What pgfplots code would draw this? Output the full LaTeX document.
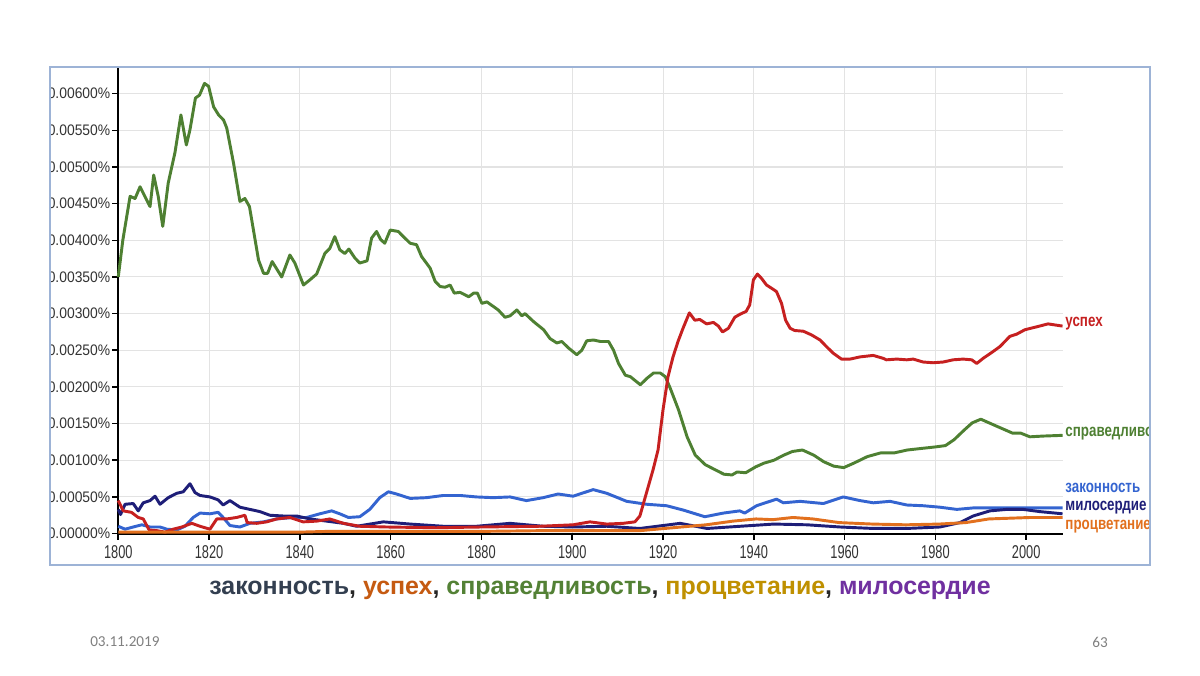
\documentclass[border=0pt]{standalone}
\usepackage{pgfplots}
\usepackage{graphicx}
\pgfplotsset{compat=1.18}
\usepackage{fontspec}
\setmainfont{Liberation Sans}
\newfontfamily\footfont{Carlito}

\definecolor{cGreen}{HTML}{4E8032}
\definecolor{cRed}{HTML}{C62020}
\definecolor{cBlue}{HTML}{3464D0}
\definecolor{cNavy}{HTML}{1E1E78}
\definecolor{cOrange}{HTML}{E2701E}
\definecolor{frameC}{HTML}{9DB3D6}
\definecolor{gridC}{HTML}{E3E3E3}
\definecolor{tA}{HTML}{333F50}
\definecolor{tB}{HTML}{C55A11}
\definecolor{tC}{HTML}{538135}
\definecolor{tD}{HTML}{BF9000}
\definecolor{tE}{HTML}{7030A0}

\newcommand{\yl}[1]{\scalebox{1}[1.1]{#1}}
\newcommand{\xl}[1]{\scalebox{1}[1.45]{#1}}
\newcommand{\rl}[1]{\scalebox{1}[1.3]{#1}}

\begin{document}
\begin{tikzpicture}
\useasboundingbox (0pt,0pt) rectangle (900pt,506.25pt);
\fill[white] (0pt,0pt) rectangle (900pt,506.25pt);
\begin{scope}
\clip (37.5pt,82.5pt) rectangle (862.5pt,456pt);
\begin{axis}[
  at={(88.7pt,106.05pt)}, anchor=south west,
  width=708.2pt, height=349.2pt, scale only axis,
  xmin=1800, xmax=2008, ymin=0, ymax=0.00635,
  axis x line*=bottom, axis y line*=left,
  axis line style={black, line width=1.5pt},
  clip=false,
  xtick={1800,1820,1840,1860,1880,1900,1920,1940,1960,1980,2000},
  xticklabels={\xl{1800},\xl{1820},\xl{1840},\xl{1860},\xl{1880},\xl{1900},\xl{1920},\xl{1940},\xl{1960},\xl{1980},\xl{2000}},
  ytick={0,0.0005,0.001,0.0015,0.002,0.0025,0.003,0.0035,0.004,0.0045,0.005,0.0055,0.006},
  yticklabels={\yl{0.00000\%},\yl{0.00050\%},\yl{0.00100\%},\yl{0.00150\%},\yl{0.00200\%},\yl{0.00250\%},\yl{0.00300\%},\yl{0.00350\%},\yl{0.00400\%},\yl{0.00450\%},\yl{0.00500\%},\yl{0.00550\%},\yl{0.00600\%}},
  tick align=outside,
  major tick length=4.5pt,
  tick style={black, line width=1.2pt},
  grid=major,
  major grid style={gridC, line width=0.8pt},
  xticklabel style={font=\fontsize{9.6}{10}\selectfont, text=black!80, yshift=-1pt},
  yticklabel style={font=\fontsize{10.4}{11}\selectfont, text=black!80, xshift=2pt},
  every axis plot/.append style={line width=2.2pt, line join=round},
]
% справедливость
\addplot[cGreen] coordinates {(1800,0.00350) (1801,0.00400) (1802.6,0.00460) (1803.7,0.00457) (1804.8,0.00473) (1807,0.00446) (1807.8,0.00489) (1808.8,0.00460) (1809.8,0.00419) (1811,0.00478) (1812.5,0.00520) (1813.8,0.00571) (1815,0.00530) (1815.8,0.00551) (1817,0.00594) (1817.9,0.00598) (1819,0.00614) (1819.9,0.00610) (1821,0.00582) (1822.1,0.00571) (1823.2,0.00564) (1823.9,0.00553) (1825.4,0.00505) (1826.8,0.00453) (1827.9,0.00457) (1828.9,0.00446) (1830.9,0.00373) (1832,0.00355) (1832.9,0.00355) (1833.9,0.00371) (1836,0.00350) (1837.8,0.00380) (1838.9,0.00369) (1840.8,0.00339) (1842.2,0.00346) (1843.7,0.00354) (1845.5,0.00382) (1846.6,0.00389) (1847.7,0.00405) (1848.8,0.00387) (1849.9,0.00382) (1850.8,0.00388) (1852.1,0.00376) (1853.2,0.00369) (1854.8,0.00372) (1855.8,0.00403) (1856.9,0.00412) (1857.8,0.00401) (1858.7,0.00396) (1859.9,0.00414) (1861.7,0.00412) (1862.8,0.00405) (1864.3,0.00396) (1865.7,0.00394) (1866.8,0.00378) (1868.7,0.00362) (1869.8,0.00344) (1870.9,0.00337) (1872,0.00336) (1873.1,0.00339) (1874,0.00328) (1875.3,0.00329) (1877.2,0.00323) (1878.3,0.00328) (1879.1,0.00328) (1880.1,0.00314) (1881.2,0.00316) (1883.7,0.00305) (1885.2,0.00295) (1886.3,0.00297) (1887.8,0.00305) (1888.9,0.00297) (1889.6,0.00300) (1891.5,0.00289) (1893.7,0.00278) (1895.1,0.00266) (1896.6,0.00260) (1897.7,0.00262) (1899.2,0.00253) (1901,0.00244) (1902.1,0.00250) (1903.2,0.00263) (1904.7,0.00264) (1906.2,0.00262) (1908,0.00262) (1909.1,0.00250) (1910.2,0.00232) (1911.7,0.00216) (1912.8,0.00214) (1915,0.00203) (1916.5,0.00212) (1917.9,0.00219) (1919.4,0.00219) (1920.5,0.00214) (1921.6,0.00198) (1923.4,0.00169) (1925.3,0.00132) (1927.1,0.00107) (1929.3,0.00094) (1931.5,0.00087) (1933.4,0.00081) (1935.2,0.00080) (1936.3,0.00084) (1938.2,0.00083) (1940.4,0.00091) (1942.2,0.00096) (1944.4,0.00100) (1946.6,0.00107) (1948.5,0.00112) (1950.7,0.00114) (1953.2,0.00107) (1955.4,0.00098) (1957.6,0.00092) (1959.8,0.00090) (1962,0.00096) (1965,0.00105) (1967.9,0.00110) (1970.9,0.00110) (1973.8,0.00114) (1976.7,0.00116) (1979.7,0.00118) (1982.2,0.00120) (1984.1,0.00128) (1986.3,0.00141) (1988.1,0.00151) (1990,0.00156) (1992.2,0.00150) (1994.4,0.00144) (1997,0.00137) (1998.8,0.00137) (2000.8,0.00132) (2003.7,0.00133) (2008,0.00134)};
% законность
\addplot[cBlue] coordinates {(1800,0.00010) (1801.5,0.00006) (1803.3,0.00009) (1805.2,0.00012) (1807,0.00009) (1809.2,0.00009) (1810.7,0.00006) (1812.9,0.00005) (1814.7,0.00010) (1816.5,0.00022) (1818,0.00028) (1820.2,0.00027) (1822,0.00029) (1823.1,0.00022) (1824.6,0.00011) (1826.8,0.00009) (1829,0.00014) (1832,0.00016) (1834.9,0.00020) (1838.5,0.00022) (1841.5,0.00022) (1844.4,0.00027) (1847,0.00031) (1848.8,0.00027) (1850.7,0.00022) (1853.2,0.00023) (1855.4,0.00033) (1857.6,0.00049) (1859.5,0.00057) (1861.3,0.00054) (1864.3,0.00048) (1867.9,0.00049) (1871.6,0.00052) (1875.3,0.00052) (1878.9,0.00050) (1882.6,0.00049) (1886.3,0.00050) (1889.9,0.00045) (1893.6,0.00049) (1896.9,0.00054) (1900.2,0.00051) (1904.6,0.00060) (1907.6,0.00055) (1912,0.00044) (1916.4,0.00040) (1920.8,0.00038) (1924.5,0.00032) (1929.2,0.00023) (1933.3,0.00028) (1936.9,0.00031) (1938,0.00028) (1940.6,0.00038) (1945,0.00047) (1946.5,0.00042) (1950.2,0.00044) (1955.3,0.00041) (1959.7,0.00050) (1963.4,0.00045) (1966.3,0.00042) (1970,0.00044) (1973.7,0.00039) (1977.3,0.00038) (1981,0.00036) (1984.7,0.00033) (1988.3,0.00035) (1995.7,0.00035) (2003,0.00035) (2008,0.00035)};
% милосердие
\addplot[cNavy] coordinates {(1800,0.00033) (1800.5,0.00026) (1801.5,0.00040) (1803.3,0.00041) (1804.4,0.00031) (1805.5,0.00042) (1807,0.00045) (1808.1,0.00051) (1809.2,0.00040) (1811,0.00049) (1812.9,0.00055) (1814.3,0.00057) (1815.8,0.00068) (1816.9,0.00056) (1818,0.00052) (1820.2,0.00050) (1822,0.00046) (1823.1,0.00039) (1824.6,0.00045) (1826.8,0.00036) (1829,0.00033) (1831.2,0.00030) (1833.4,0.00025) (1836.4,0.00024) (1839.3,0.00024) (1842.2,0.00020) (1845.9,0.00017) (1849.6,0.00014) (1852.5,0.00010) (1858.4,0.00016) (1864.3,0.00013) (1871.6,0.00010) (1878.9,0.00010) (1886.3,0.00014) (1893.6,0.00010) (1900.2,0.00009) (1907.6,0.00010) (1914.9,0.00007) (1923.8,0.00014) (1929.7,0.00007) (1937,0.00010) (1944.4,0.00013) (1951.7,0.00012) (1959,0.00009) (1966.3,0.00007) (1973.7,0.00007) (1981,0.00009) (1985.4,0.00015) (1988.3,0.00024) (1992,0.00031) (1995.7,0.00033) (1999.3,0.00033) (2003,0.00030) (2008,0.00027)};
% успех
\addplot[cRed] coordinates {(1800,0.00045) (1801.1,0.00031) (1802.9,0.00029) (1804.4,0.00022) (1805.5,0.00020) (1806.8,0.00005) (1808.5,0.00004) (1810.3,0.00002) (1812.1,0.00006) (1814,0.00009) (1816.2,0.00014) (1818,0.00010) (1820.2,0.00006) (1821.7,0.00020) (1823.9,0.00020) (1826.1,0.00022) (1827.9,0.00025) (1828.4,0.00015) (1830.5,0.00014) (1832.7,0.00016) (1834.9,0.00020) (1837.8,0.00022) (1840.7,0.00016) (1843.7,0.00017) (1846.6,0.00020) (1849.6,0.00014) (1853.2,0.00010) (1859.1,0.00009) (1870,0.00008) (1880,0.00009) (1892.9,0.00010) (1900.2,0.00012) (1903.9,0.00016) (1907.6,0.00013) (1911.2,0.00014) (1913.8,0.00016) (1914.9,0.00024) (1916,0.00048) (1917.8,0.00087) (1918.9,0.00114) (1920,0.00169) (1921.1,0.00214) (1922.2,0.00241) (1923.3,0.00262) (1924.4,0.00280) (1925.8,0.00301) (1927,0.00291) (1928.1,0.00292) (1929.6,0.00286) (1931.1,0.00288) (1932.2,0.00283) (1933.1,0.00275) (1934.4,0.00280) (1935.8,0.00295) (1936.9,0.00299) (1938.3,0.00303) (1939.1,0.00312) (1939.9,0.00346) (1940.8,0.00354) (1941.7,0.00348) (1942.8,0.00339) (1944.3,0.00333) (1945,0.00330) (1946.1,0.00314) (1947,0.00291) (1948,0.00280) (1949,0.00277) (1950.9,0.00276) (1952.7,0.00271) (1954.6,0.00264) (1956,0.00255) (1957.5,0.00246) (1959.3,0.00238) (1961.2,0.00238) (1963.4,0.00241) (1966.3,0.00243) (1968.5,0.00239) (1969.2,0.00237) (1971.5,0.00238) (1973.7,0.00237) (1975.1,0.00238) (1977.3,0.00234) (1979.5,0.00233) (1981.7,0.00234) (1983.9,0.00237) (1986.1,0.00238) (1988,0.00237) (1989.1,0.00232) (1990.5,0.00239) (1992.4,0.00247) (1994.2,0.00255) (1996.4,0.00269) (1997.9,0.00272) (1999.7,0.00278) (2002.3,0.00282) (2004.8,0.00286) (2008,0.00283)};
% процветание
\addplot[cOrange] coordinates {(1800,0.00002) (1820,0.00002) (1840,0.00002) (1846,0.00003) (1860,0.00003) (1880,0.00003) (1892.9,0.00004) (1914.9,0.00004) (1922.2,0.00008) (1929.5,0.00012) (1935.4,0.00017) (1940.5,0.00020) (1944.2,0.00019) (1948.6,0.00022) (1953,0.00020) (1958.8,0.00015) (1966.1,0.00013) (1973.5,0.00012) (1980.8,0.00013) (1986.7,0.00015) (1991.8,0.00020) (2001,0.00022) (2008,0.00022)};
\begin{scope}[every node/.style={anchor=west, inner sep=0pt, font=\fontsize{10}{12}\selectfont\bfseries}]
\node[text=cRed] at (axis cs:2008,0.00287) [xshift=2pt] {\rl{успех}};
\node[text=cGreen] at (axis cs:2008,0.00137) [xshift=2pt] {\rl{справедливость}};
\node[text=cBlue] at (axis cs:2008,0.00062) [xshift=2pt] {\rl{законность}};
\node[text=cNavy] at (axis cs:2008,0.00035) [xshift=2pt] {\rl{милосердие}};
\node[text=cOrange] at (axis cs:2008,0.00009) [xshift=2pt] {\rl{процветание}};
\end{scope}
\end{axis}
\end{scope}
\draw[frameC, line width=0.8pt] (37.5pt,82.5pt) rectangle (862.5pt,456pt);
\node[font=\fontsize{18.7}{22}\selectfont\bfseries, text=black!85] at (450pt,63.5pt)
  {\textcolor{tA}{законность}, \textcolor{tB}{успех}, \textcolor{tC}{справедливость}, \textcolor{tD}{процветание}, \textcolor{tE}{милосердие}};
\node[anchor=west, font=\footfont\fontsize{11.4}{12}\selectfont, text=black!50, inner sep=0pt] at (67.5pt,24.75pt) {03.11.2019};
\node[font=\footfont\fontsize{11.4}{12}\selectfont, text=black!50, inner sep=0pt] at (825pt,24.75pt) {63};
\end{tikzpicture}
\end{document}
